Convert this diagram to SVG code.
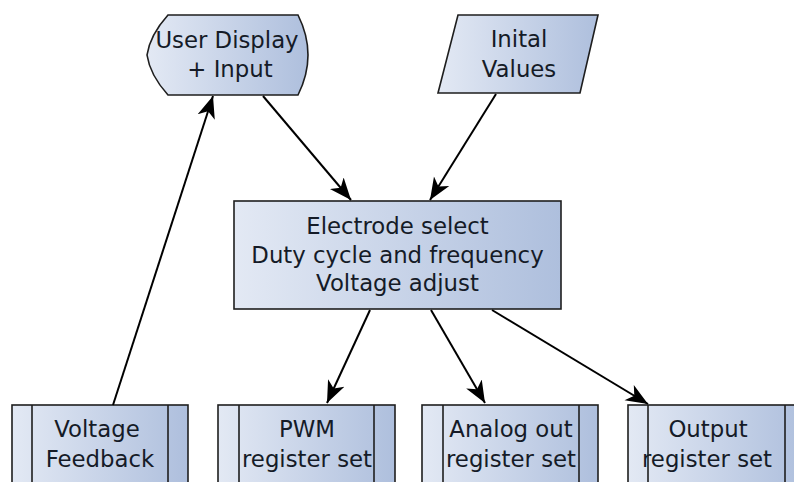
<svg xmlns="http://www.w3.org/2000/svg" width="794" height="482" viewBox="0 0 794 482">
<defs>
<linearGradient id="g" x1="0" y1="0" x2="1" y2="0">
<stop offset="0" stop-color="#e3e9f4"/>
<stop offset="1" stop-color="#aebfdd"/>
</linearGradient>
<marker id="ah" markerUnits="userSpaceOnUse" markerWidth="24" markerHeight="24" viewBox="0 0 24 24" refX="22" refY="12" orient="auto">
<path d="M0,3 L22,12 L0,21 L6,12 Z" fill="#000"/>
</marker>
<style>
.shape{fill:url(#g);stroke:#1e1e1e;stroke-width:1.6}
.bar{fill:none;stroke:#1e1e1e;stroke-width:1.6}
.t{font-family:"DejaVu Sans",Verdana,sans-serif;font-size:22.8px;fill:#151b27;text-anchor:middle}
.c{stroke:#000;stroke-width:2;fill:none;marker-end:url(#ah)}
</style>
</defs>
<rect width="794" height="482" fill="#fff"/>
<g id="user-display">
<path class="shape" d="M168,15 L298,15 Q318,55 298,95 L168,95 Q150,75 147,55 Q150,35 168,15 Z"/>
<text class="t" x="227" y="48">User Display</text>
<text class="t" x="230" y="77">+ Input</text>
</g>
<g id="initial-values">
<path class="shape" d="M458,15 L598,15 L580,93 L438,93 Z"/>
<text class="t" x="519" y="47">Inital</text>
<text class="t" x="519" y="77">Values</text>
</g>
<g id="central">
<rect class="shape" x="234" y="201" width="327" height="108"/>
<text class="t" x="397.5" y="234">Electrode select</text>
<text class="t" x="397.5" y="263">Duty cycle and frequency</text>
<text class="t" x="397.5" y="291">Voltage adjust</text>
</g>
<g id="voltage-feedback">
<rect class="shape" x="12" y="405" width="176" height="100"/>
<line class="bar" x1="32" y1="405" x2="32" y2="505"/>
<line class="bar" x1="168" y1="405" x2="168" y2="505"/>
<text class="t" x="97" y="437">Voltage</text>
<text class="t" x="100" y="467">Feedback</text>
</g>
<g id="pwm">
<rect class="shape" x="218" y="405" width="177" height="100"/>
<line class="bar" x1="239" y1="405" x2="239" y2="505"/>
<line class="bar" x1="374" y1="405" x2="374" y2="505"/>
<text class="t" x="307" y="437">PWM</text>
<text class="t" x="307" y="467">register set</text>
</g>
<g id="analog">
<rect class="shape" x="422" y="405" width="176" height="100"/>
<line class="bar" x1="443" y1="405" x2="443" y2="505"/>
<line class="bar" x1="579" y1="405" x2="579" y2="505"/>
<text class="t" x="511" y="437">Analog out</text>
<text class="t" x="511" y="467">register set</text>
</g>
<g id="output">
<rect class="shape" x="628" y="405" width="177" height="100"/>
<line class="bar" x1="648" y1="405" x2="648" y2="505"/>
<line class="bar" x1="785" y1="405" x2="785" y2="505"/>
<text class="t" x="708" y="437">Output</text>
<text class="t" x="707" y="467">register set</text>
</g>
<g id="connectors">
<line class="c" x1="113" y1="405" x2="213" y2="96"/>
<line class="c" x1="263" y1="96" x2="351" y2="200"/>
<line class="c" x1="496" y1="94" x2="430" y2="200"/>
<line class="c" x1="370" y1="310" x2="327" y2="403"/>
<line class="c" x1="431" y1="310" x2="485" y2="403"/>
<line class="c" x1="492" y1="310" x2="648" y2="404"/>
</g>
</svg>
